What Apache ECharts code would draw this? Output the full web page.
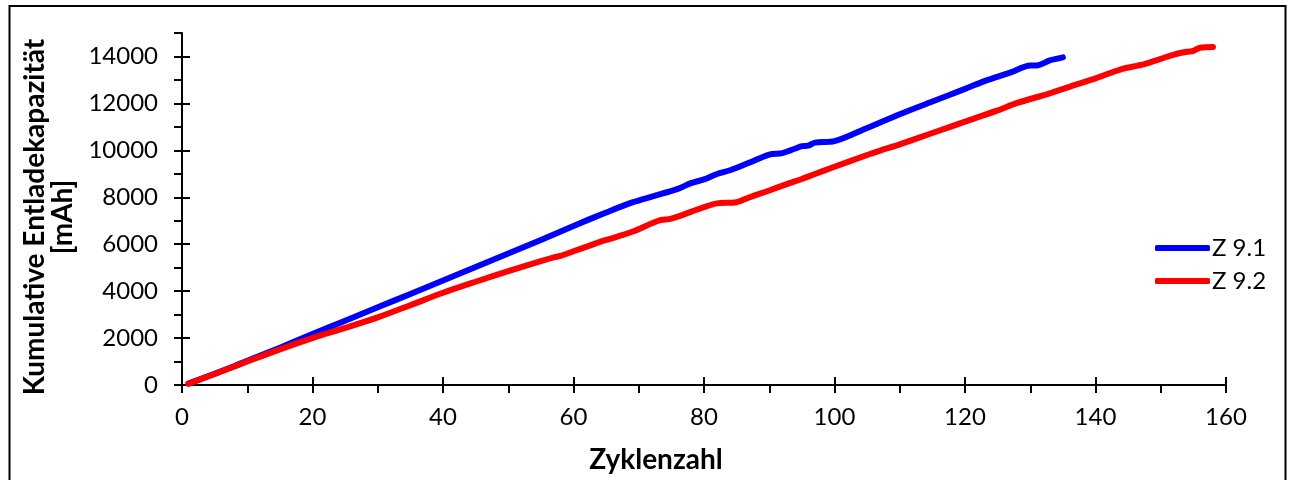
<!DOCTYPE html>
<html>
<head>
<meta charset="utf-8">
<script src="https://cdn.jsdelivr.net/npm/echarts@6/dist/echarts.min.js"></script>
<style>
  html, body { margin: 0; padding: 0; background: #ffffff; }
  #chart { width: 1295px; height: 480px; }
</style>
</head>
<body>
<div id="chart"></div>
<script>
// Cumulative discharge capacity per cycle for two cells
const z91Cycles = [1, 5, 8, 10, 15, 20, 25, 30, 35, 40, 45, 50, 55, 60, 65, 69, 72, 76, 78, 80, 82, 84, 87, 90, 92, 94, 95, 96, 97, 100, 105, 110, 115, 120, 123, 127, 130, 131, 133, 135];
const z91Values = [60, 480, 800, 1030, 1590, 2170, 2740, 3310, 3880, 4450, 5030, 5600, 6180, 6780, 7350, 7780, 8030, 8360, 8600, 8760, 8990, 9150, 9480, 9820, 9880, 10080, 10180, 10200, 10330, 10390, 10950, 11540, 12080, 12620, 12950, 13320, 13620, 13620, 13830, 13960];

const z92Cycles = [1, 5, 10, 15, 20, 25, 30, 35, 40, 45, 50, 55, 57, 58, 60, 63, 65, 69, 73, 75, 78, 80, 82, 85, 87, 90, 93, 95, 97, 100, 105, 107, 110, 115, 120, 125, 128, 133, 137, 140, 144, 147, 150, 152, 154, 155, 156, 158];
const z92Values = [60, 470, 1000, 1520, 2000, 2430, 2880, 3400, 3930, 4400, 4850, 5280, 5440, 5500, 5700, 5990, 6180, 6530, 7000, 7090, 7380, 7580, 7740, 7790, 8000, 8290, 8590, 8780, 8990, 9300, 9800, 9990, 10250, 10740, 11220, 11700, 12020, 12430, 12800, 13070, 13460, 13640, 13900, 14080, 14200, 14240, 14370, 14400];

const seriesNames = ['Z 9.1', 'Z 9.2'];
const xTitle = 'Zyklenzahl';
const yTitle = 'Kumulative Entladekapazität\n[mAh]';
const yMajorTicks = [0, 2000, 4000, 6000, 8000, 10000, 12000, 14000];

const pairs = (xs, ys) => xs.map((x, i) => [x, ys[i]]);

const FONT = 'Lato';
const chart = echarts.init(document.getElementById('chart'), null, { renderer: 'canvas' });

const baseX = { type: 'value', min: 0, max: 160, gridIndex: 0, position: 'bottom', splitLine: { show: false } };
const baseY = { type: 'value', min: 0, max: 15000, gridIndex: 0, position: 'left', splitLine: { show: false } };

chart.setOption({
  animation: false,
  backgroundColor: '#ffffff',
  grid: { left: 182, right: 69, top: 33, bottom: 95, containLabel: false },
  xAxis: [
    Object.assign({}, baseX, {
      interval: 10,
      axisLine: { show: true, lineStyle: { color: '#000', width: 2 } },
      axisTick: { show: true, inside: false, length: 8, lineStyle: { color: '#000', width: 2 } },
      axisLabel: {
        show: true, margin: 20, color: '#000', fontFamily: FONT, fontSize: 24,
        formatter: v => (v % 20 === 0 ? String(v) : '')
      }
    }),
    Object.assign({}, baseX, {
      interval: 20,
      axisLine: { show: false },
      axisTick: { show: true, inside: true, length: 8, lineStyle: { color: '#000', width: 2 } },
      axisLabel: { show: false }
    })
  ],
  yAxis: [
    Object.assign({}, baseY, {
      interval: 1000,
      axisLine: { show: true, lineStyle: { color: '#000', width: 2 } },
      axisTick: { show: true, inside: false, length: 8, lineStyle: { color: '#000', width: 2 } },
      axisLabel: {
        show: true, margin: 24, color: '#000', fontFamily: FONT, fontSize: 24,
        formatter: v => (v % 2000 === 0 ? String(v) : '')
      }
    }),
    Object.assign({}, baseY, {
      interval: 2000,
      axisLine: { show: false },
      axisTick: { show: true, inside: true, length: 8, customValues: yMajorTicks, lineStyle: { color: '#000', width: 2 } },
      axisLabel: { show: false }
    })
  ],
  legend: {
    orient: 'vertical',
    left: 1155,
    top: 236,
    itemWidth: 55,
    itemHeight: 6,
    itemGap: 9,
    icon: 'roundRect',
    padding: 0,
    textStyle: { color: '#000', fontFamily: FONT, fontSize: 24, lineHeight: 22, padding: [0, 0, 0, -3] },
    data: seriesNames
  },
  graphic: [
    {
      type: 'rect',
      silent: true,
      shape: { x: 9.5, y: 6, width: 1276, height: 500 },
      style: { fill: 'none', stroke: '#000', lineWidth: 2 }
    },
    {
      type: 'text',
      x: 49,
      y: 217,
      rotation: Math.PI / 2,
      silent: true,
      style: {
        text: yTitle,
        fill: '#000',
        font: 'bold 28px ' + FONT,
        align: 'center',
        verticalAlign: 'middle',
        lineHeight: 28
      }
    },
    {
      type: 'text',
      x: 656,
      y: 460,
      silent: true,
      style: {
        text: xTitle,
        fill: '#000',
        font: 'bold 28px ' + FONT,
        align: 'center',
        verticalAlign: 'middle'
      }
    }
  ],
  series: [
    {
      name: seriesNames[0],
      type: 'line',
      xAxisIndex: 0,
      yAxisIndex: 0,
      data: pairs(z91Cycles, z91Values),
      showSymbol: false,
      smooth: 0.3,
      color: '#0000ff',
      lineStyle: { width: 6, color: '#0000ff', cap: 'round', join: 'round' }
    },
    {
      name: seriesNames[1],
      type: 'line',
      xAxisIndex: 0,
      yAxisIndex: 0,
      data: pairs(z92Cycles, z92Values),
      showSymbol: false,
      smooth: 0.3,
      color: '#ff0000',
      lineStyle: { width: 6, color: '#ff0000', cap: 'round', join: 'round' }
    }
  ]
});
</script>
</body>
</html>
